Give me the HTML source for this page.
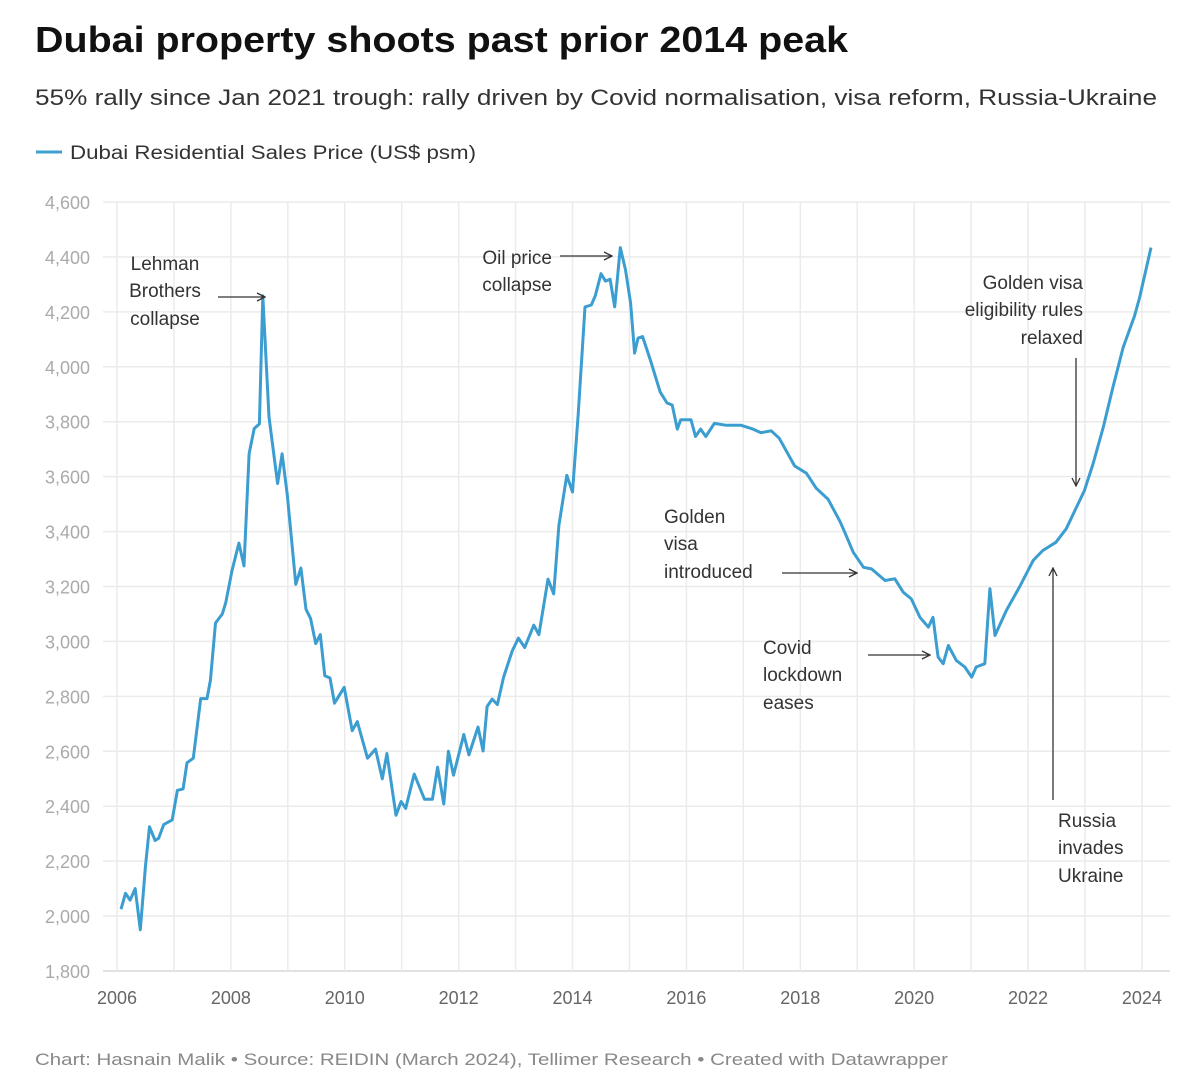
<!DOCTYPE html>
<html><head><meta charset="utf-8"><style>
html,body{margin:0;padding:0;background:#fff;}
svg{display:block;font-family:"Liberation Sans",sans-serif;}
</style></head><body>
<svg id="chart" width="1200" height="1088" viewBox="0 0 1200 1088">
<text x="35" y="52" font-size="36" font-weight="bold" fill="#111" textLength="813" lengthAdjust="spacingAndGlyphs">Dubai property shoots past prior 2014 peak</text>
<text x="35" y="105" font-size="22" fill="#333" textLength="1122" lengthAdjust="spacingAndGlyphs">55% rally since Jan 2021 trough: rally driven by Covid normalisation, visa reform, Russia-Ukraine</text>
<g>
<line x1="36" y1="152" x2="62" y2="152" stroke="#3fa0cf" stroke-width="3"/>
<text x="70" y="159" font-size="19" fill="#333" textLength="406" lengthAdjust="spacingAndGlyphs">Dubai Residential Sales Price (US$ psm)</text>
</g>
<g id="grid"></g>
<g id="yticks"></g>
<g id="xticks"></g>
<path id="series" fill="none" stroke="#3b9dd0" stroke-width="3" stroke-linejoin="round"/>
<g font-size="19" fill="#333">
<defs><marker id="ah" markerWidth="10" markerHeight="10" refX="9" refY="5" orient="auto" markerUnits="userSpaceOnUse"><path d="M1,1 L9,5 L1,9" fill="none" stroke="#333" stroke-width="1.3"/></marker></defs>
<g>
<text x="165" y="270" text-anchor="middle">Lehman</text><text x="165" y="297" text-anchor="middle">Brothers</text><text x="165" y="325" text-anchor="middle">collapse</text>
<line x1="218" y1="297" x2="265" y2="297" stroke="#333" stroke-width="1.3" marker-end="url(#ah)"/></g>
<g>
<text x="552" y="264" text-anchor="end">Oil price</text><text x="552" y="291" text-anchor="end">collapse</text>
<line x1="560" y1="256" x2="612" y2="256" stroke="#333" stroke-width="1.3" marker-end="url(#ah)"/></g>
<g>
<text x="664" y="523">Golden</text><text x="664" y="550">visa</text><text x="664" y="578">introduced</text>
<line x1="782" y1="573" x2="857" y2="573" stroke="#333" stroke-width="1.3" marker-end="url(#ah)"/></g>
<g>
<text x="763" y="654">Covid</text><text x="763" y="681">lockdown</text><text x="763" y="709">eases</text>
<line x1="868" y1="655" x2="930" y2="655" stroke="#333" stroke-width="1.3" marker-end="url(#ah)"/></g>
<g>
<text x="1083" y="289" text-anchor="end">Golden visa</text><text x="1083" y="316" text-anchor="end">eligibility rules</text><text x="1083" y="344" text-anchor="end">relaxed</text>
<line x1="1076" y1="358" x2="1076" y2="486" stroke="#333" stroke-width="1.3" marker-end="url(#ah)"/></g>
<g>
<text x="1058" y="827">Russia</text><text x="1058" y="854">invades</text><text x="1058" y="882">Ukraine</text>
<line x1="1053" y1="800" x2="1053" y2="568" stroke="#333" stroke-width="1.3" marker-end="url(#ah)"/></g>
</g>
<text x="35" y="1065" font-size="17" fill="#888" textLength="913" lengthAdjust="spacingAndGlyphs">Chart: Hasnain Malik • Source: REIDIN (March 2024), Tellimer Research • Created with Datawrapper</text>
</svg>
<script>
const years = [2006.07,2006.15,2006.23,2006.32,2006.41,2006.5,2006.57,2006.67,2006.73,2006.82,2006.97,2007.06,2007.16,2007.23,2007.34,2007.47,2007.58,2007.64,2007.73,2007.85,2007.91,2008.02,2008.14,2008.23,2008.32,2008.41,2008.5,2008.56,2008.67,2008.82,2008.9,2008.99,2009.14,2009.23,2009.32,2009.4,2009.49,2009.57,2009.65,2009.74,2009.82,2009.99,2010.13,2010.22,2010.4,2010.54,2010.66,2010.74,2010.9,2010.99,2011.07,2011.22,2011.4,2011.54,2011.63,2011.74,2011.82,2011.91,2012.09,2012.18,2012.34,2012.43,2012.5,2012.59,2012.68,2012.79,2012.94,2013.05,2013.16,2013.32,2013.41,2013.57,2013.67,2013.76,2013.9,2014.0,2014.1,2014.22,2014.33,2014.4,2014.5,2014.58,2014.66,2014.74,2014.84,2014.93,2015.02,2015.09,2015.15,2015.23,2015.37,2015.54,2015.66,2015.75,2015.84,2015.9,2016.08,2016.16,2016.25,2016.34,2016.49,2016.7,2016.96,2017.17,2017.31,2017.49,2017.63,2017.9,2018.11,2018.28,2018.49,2018.7,2018.78,2018.93,2019.11,2019.25,2019.49,2019.66,2019.81,2019.95,2020.1,2020.25,2020.33,2020.42,2020.51,2020.6,2020.74,2020.89,2021.01,2021.09,2021.24,2021.33,2021.42,2021.62,2021.85,2022.09,2022.26,2022.49,2022.67,2022.85,2022.99,2023.14,2023.32,2023.49,2023.67,2023.87,2023.96,2024.16];
const prices = [2025,2083,2058,2100,1950,2183,2325,2275,2283,2333,2350,2458,2463,2558,2575,2792,2792,2858,3067,3100,3142,3258,3358,3275,3683,3775,3792,4258,3817,3575,3683,3533,3208,3267,3117,3083,2992,3025,2875,2867,2775,2833,2675,2708,2575,2608,2500,2592,2367,2417,2392,2517,2425,2425,2542,2408,2600,2513,2661,2587,2688,2601,2763,2790,2770,2870,2965,3012,2978,3059,3025,3227,3173,3423,3605,3544,3827,4218,4225,4259,4339,4312,4319,4218,4434,4353,4232,4050,4104,4110,4023,3908,3868,3861,3773,3807,3807,3746,3773,3746,3794,3787,3787,3773,3760,3767,3740,3639,3612,3558,3517,3436,3398,3325,3270,3264,3222,3228,3179,3155,3088,3052,3088,2943,2919,2985,2931,2907,2870,2907,2919,3192,3022,3113,3198,3295,3331,3361,3410,3488,3549,3646,3779,3925,4070,4185,4252,4434];
const yTicks = [1800,2000,2200,2400,2600,2800,3000,3200,3400,3600,3800,4000,4200,4400,4600];
const xTicks = [2006,2008,2010,2012,2014,2016,2018,2020,2022,2024];
const gridYears = [2006,2007,2008,2009,2010,2011,2012,2013,2014,2015,2016,2017,2018,2019,2020,2021,2022,2023,2024];

const X0=117, Y0=971;
function xs(y){return X0+(y-2006)*56.94;}
function ys(v){return Y0-(v-1800)*(769/2800);}
const NS='http://www.w3.org/2000/svg';
function mk(tag,attrs,parent){const e=document.createElementNS(NS,tag);for(const k in attrs)e.setAttribute(k,attrs[k]);parent.appendChild(e);return e;}
const grid=document.getElementById('grid'),yt=document.getElementById('yticks'),xt=document.getElementById('xticks');
yTicks.forEach(v=>{
  const l=mk('line',{x1:103,x2:1170,y1:ys(v),y2:ys(v),stroke:v===1800?'#d8d8d8':'#ebebeb','stroke-width':1.5},grid);
  
  
  const t=mk('text',{x:90,y:ys(v)+7,'text-anchor':'end','font-size':18,fill:'#aaa'},yt);
  
  
  t.textContent=v.toLocaleString('en-US');
});
gridYears.forEach(y=>{
  const l=mk('line',{x1:xs(y),x2:xs(y),y1:ys(4600),y2:ys(1800),stroke:'#ebebeb','stroke-width':1.5},grid);
  
  
});
xTicks.forEach(y=>{
  const t=mk('text',{x:xs(y),y:1004,'text-anchor':'middle','font-size':18,fill:'#666'},xt);
  
  
  t.textContent=y;
});
let d='';
years.forEach((y,i)=>{d+=(i?'L':'M')+xs(y).toFixed(1)+','+ys(prices[i]).toFixed(1);});
document.getElementById('series').setAttribute('d',d);
</script>
</body></html>
